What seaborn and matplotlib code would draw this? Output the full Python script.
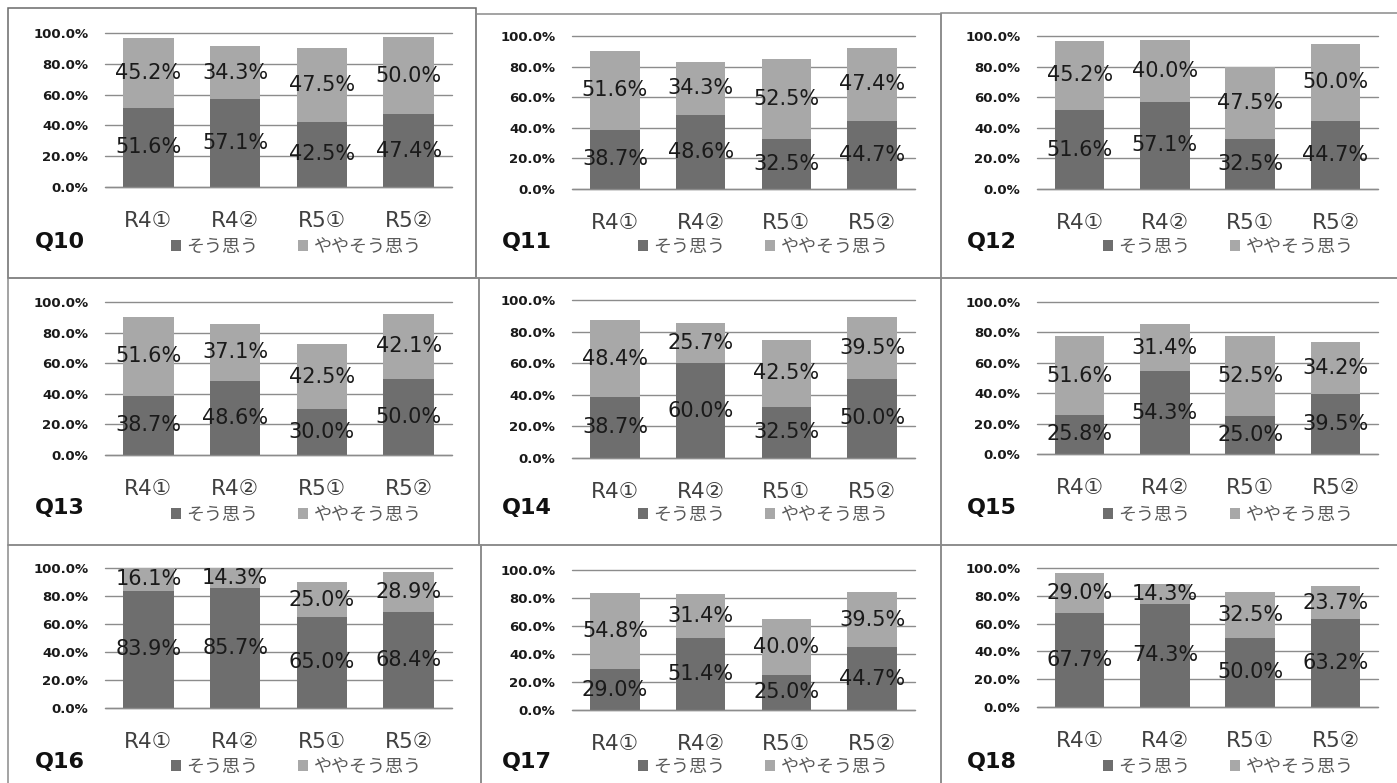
import matplotlib
matplotlib.use("Agg")
import matplotlib.pyplot as plt
from matplotlib.patches import Patch, Rectangle
import pandas as pd
import seaborn as sns

# ---- data ----
periods = ["R4①", "R4②", "R5①", "R5②"]
series_names = ["そう思う", "ややそう思う"]
questions = ["Q10", "Q11", "Q12", "Q13", "Q14", "Q15", "Q16", "Q17", "Q18"]

agree_q10 = [51.6, 57.1, 42.5, 47.4]
somewhat_q10 = [45.2, 34.3, 47.5, 50.0]
agree_q11 = [38.7, 48.6, 32.5, 44.7]
somewhat_q11 = [51.6, 34.3, 52.5, 47.4]
agree_q12 = [51.6, 57.1, 32.5, 44.7]
somewhat_q12 = [45.2, 40.0, 47.5, 50.0]
agree_q13 = [38.7, 48.6, 30.0, 50.0]
somewhat_q13 = [51.6, 37.1, 42.5, 42.1]
agree_q14 = [38.7, 60.0, 32.5, 50.0]
somewhat_q14 = [48.4, 25.7, 42.5, 39.5]
agree_q15 = [25.8, 54.3, 25.0, 39.5]
somewhat_q15 = [51.6, 31.4, 52.5, 34.2]
agree_q16 = [83.9, 85.7, 65.0, 68.4]
somewhat_q16 = [16.1, 14.3, 25.0, 28.9]
agree_q17 = [29.0, 51.4, 25.0, 44.7]
somewhat_q17 = [54.8, 31.4, 40.0, 39.5]
agree_q18 = [67.7, 74.3, 50.0, 63.2]
somewhat_q18 = [29.0, 14.3, 32.5, 23.7]

agree_all = [agree_q10, agree_q11, agree_q12, agree_q13, agree_q14,
             agree_q15, agree_q16, agree_q17, agree_q18]
somewhat_all = [somewhat_q10, somewhat_q11, somewhat_q12, somewhat_q13, somewhat_q14,
                somewhat_q15, somewhat_q16, somewhat_q17, somewhat_q18]

y_ticks = [0, 20, 40, 60, 80, 100]
y_tick_labels = ["0.0%", "20.0%", "40.0%", "60.0%", "80.0%", "100.0%"]

# ---- style ----
DARK = "#6e6e6e"
LIGHT = "#a8a8a8"
GRID = "#8c8c8c"
FRAME = "#8a8a8a"

sns.set_theme(style="white")
plt.rcParams["font.family"] = ["DejaVu Sans", "Noto Sans CJK JP"]
CJK = ["Noto Sans CJK JP", "DejaVu Sans"]

W, H = 1397, 783
fig = plt.figure(figsize=(W / 100, H / 100), dpi=100)
fig.patch.set_facecolor("white")

# plot-area pixel boxes: columns (left, right), rows (top, bottom) per column
col_x = [(105, 452), (572, 915), (1037, 1378)]
row_y = [[(33, 187), (36, 189), (36, 189)],
         [(302, 455), (300, 458), (302, 454)],
         [(568, 708), (570, 710), (568, 707)]]
# panel frames (x0, y0, x1, y1) in pixels
frames = [(8, 8, 476, 278), (476, 14, 941, 278), (941, 13, 1400, 278),
          (8, 278, 479, 545), (479, 278, 941, 545), (941, 278, 1400, 545),
          (8, 545, 481, 786), (481, 545, 941, 786), (941, 545, 1400, 786)]
frame_colors = ["#6a6a6a"] + [FRAME] * 8

for f, fc in zip(frames, frame_colors):
    x0, y0, x1, y1 = f
    fig.patches.append(Rectangle((x0 / W, 1 - y1 / H), (x1 - x0) / W, (y1 - y0) / H,
                                 transform=fig.transFigure, fill=False,
                                 edgecolor=fc, linewidth=1.1, zorder=0))

for k, q in enumerate(questions):
    r, c = divmod(k, 3)
    x0, x1 = col_x[c]
    y0, y1 = row_y[r][c]
    ax = fig.add_axes([x0 / W, 1 - y1 / H, (x1 - x0) / W, (y1 - y0) / H])

    a = agree_all[k]
    s = somewhat_all[k]
    df = pd.DataFrame({"period": periods, "agree": a, "somewhat": s})
    df["total"] = df["agree"] + df["somewhat"]

    sns.barplot(data=df, x="period", y="total", color=LIGHT, saturation=1,
                width=0.58, edgecolor="none", ax=ax, zorder=2)
    sns.barplot(data=df, x="period", y="agree", color=DARK, saturation=1,
                width=0.58, edgecolor="none", ax=ax, zorder=3)

    for i in range(len(periods)):
        ax.text(i, a[i] / 2, f"{a[i]:.1f}%", ha="center", va="center",
                fontsize=15, color="#1a1a1a", zorder=5)
        ax.text(i, a[i] + s[i] / 2, f"{s[i]:.1f}%", ha="center", va="center",
                fontsize=15, color="#1a1a1a", zorder=5)

    ax.set_ylim(0, 100)
    ax.set_xlim(-0.5, len(periods) - 0.5)
    ax.set_yticks(y_ticks)
    ax.set_yticklabels(y_tick_labels)
    ax.set_xlabel("")
    ax.set_ylabel("")
    ax.set_facecolor("none")
    for sp in ax.spines.values():
        sp.set_visible(False)
    ax.grid(axis="y", color=GRID, linewidth=1.0, zorder=1)
    ax.grid(axis="x", visible=False)
    ax.set_axisbelow(True)
    for gl in ax.get_ygridlines():
        gl.set_clip_on(False)
    # category baseline
    ax.axhline(0, color=GRID, linewidth=1.0, zorder=4, clip_on=False)
    ax.tick_params(axis="y", length=0, pad=12, labelsize=9.5, labelcolor="#1a1a1a")
    ax.tick_params(axis="x", length=0, pad=17, labelsize=15.5, labelcolor="#404040")
    for t in ax.get_yticklabels():
        t.set_fontweight("bold")

    # panel title
    q_y = [242, 508, 762][r]
    fig.text((x0 - 70) / W, 1 - q_y / H, q, ha="left", va="center",
             fontsize=16, fontweight="bold", color="#111111")

    # legend
    leg_y = [247, 515, 767][r]
    handles = [Patch(facecolor=DARK, edgecolor="none"),
               Patch(facecolor=LIGHT, edgecolor="none")]
    fig.legend(handles, series_names, loc="center left",
               bbox_to_anchor=((x0 + 66) / W, 1 - leg_y / H),
               ncol=2, frameon=False, labelcolor="#595959",
               prop={"family": CJK, "size": 13},
               handlelength=0.55, handleheight=0.55, handletextpad=0.3,
               columnspacing=2.2, borderaxespad=0, borderpad=0)

fig.savefig("out.png", dpi=100, facecolor="white")
